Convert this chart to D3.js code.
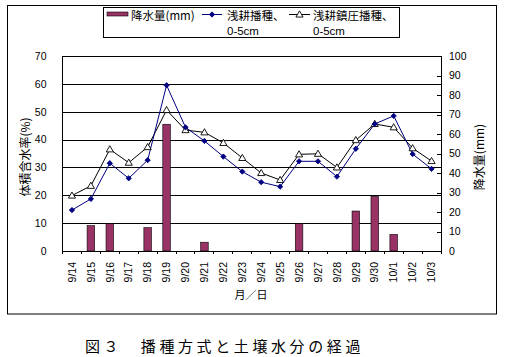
<!DOCTYPE html>
<html><head><meta charset="utf-8">
<script src="https://cdn.jsdelivr.net/npm/d3@7"></script>
<style>
body{margin:0;background:#fff;}
svg{display:block;}
text{font-family:"Liberation Sans","Noto Sans CJK JP",sans-serif;fill:#000;}
.cjk{font-family:"Noto Sans CJK JP",sans-serif;}
</style></head>
<body>
<svg id="c" width="508" height="357"></svg>
<script>
const categories = ["9/14","9/15","9/16","9/17","9/18","9/19","9/20","9/21","9/22","9/23","9/24","9/25","9/26","9/27","9/28","9/29","9/30","10/1","10/2","10/3"];
const rainfall = [0,13,14,0,12,65,0,4.5,0,0,0,0,14,0,0,20.5,28,8.5,0,0];
const shallow = [14.7,18.7,31.5,26.1,32.6,59.5,44.4,39.5,33.9,28.5,24.7,23.1,32.2,32.2,26.7,36.7,45.6,48.5,34.8,29.5];
const compacted = [19.9,23.4,36.5,31.7,37.3,50.6,43.4,42.6,38.8,33.4,28.0,25.5,34.7,34.9,30.0,39.8,45.6,44.4,36.9,32.3];
const leftTicks = [0,10,20,30,40,50,60,70];
const rightTicks = [0,10,20,30,40,50,60,70,80,90,100];
const seriesNames = ["降水量(mm)", "浅耕播種、", "浅耕鎮圧播種、"];
const seriesSub = ["", "0-5cm", "0-5cm"];
const yLabelLeft = "体積含水率(%)";
const yLabelRight = "降水量(mm)";
const xLabel = "月／日";
const caption = "図３　播種方式と土壌水分の経過";

const svg = d3.select("#c");
const L = 62.5, R = 441, T = 56, B = 251;

svg.append("rect").attr("x",7.5).attr("y",5.5).attr("width",489).attr("height",308.5)
  .attr("fill","#fff").attr("stroke","#000").attr("stroke-width",1);

const x = d3.scaleBand().domain(categories).range([L,R]).paddingInner(0.6).paddingOuter(0.3);
const yL = d3.scaleLinear().domain([0,70]).range([B,T]);
const yR = d3.scaleLinear().domain([0,100]).range([B,T]);

// left axis + gridlines
const gl = svg.append("g").attr("transform",`translate(${L},0)`)
  .call(d3.axisLeft(yL).tickValues(leftTicks).tickSize(-(R-L)).tickPadding(16));
gl.select(".domain").remove();
gl.selectAll(".tick line").attr("stroke","#000").attr("shape-rendering","crispEdges");
gl.selectAll("text").attr("font-size","10.5px");
svg.append("line").attr("x1",L).attr("x2",L).attr("y1",T).attr("y2",B).attr("stroke","#000").attr("shape-rendering","crispEdges");

// right axis
const gr = svg.append("g").attr("transform",`translate(${R},0)`)
  .call(d3.axisRight(yR).tickValues(rightTicks).tickSize(-4).tickPadding(8));
gr.select(".domain").attr("d",`M0,${T}V${B}`).attr("stroke","#000").attr("shape-rendering","crispEdges");
gr.selectAll(".tick line").attr("stroke","#000").attr("shape-rendering","crispEdges");
gr.selectAll("text").attr("font-size","10.5px");

// bars
const bw = x.bandwidth();
svg.append("g").selectAll("rect").data(categories.map((c,i)=>({c,v:rainfall[i]})).filter(d=>d.v>0))
  .join("rect")
  .attr("x",d=>x(d.c)).attr("width",bw)
  .attr("y",d=>yR(d.v)).attr("height",d=>B-yR(d.v))
  .attr("fill","#993366").attr("stroke","#000").attr("stroke-width",0.6);

// bottom axis
const gb = svg.append("g").attr("transform",`translate(0,${B})`)
  .call(d3.axisBottom(x).tickSize(0));
gb.select(".domain").attr("d",`M${L},0H${R}`).attr("stroke","#000").attr("shape-rendering","crispEdges");
gb.selectAll("text").attr("transform","rotate(-90)").attr("x",-11).attr("y",0).attr("dy","0.35em")
  .attr("text-anchor","end").attr("font-size","10.5px");
const step = x.step();
const bounds = categories.map(c=>x(c)-(step-bw)/2).concat([x(categories[categories.length-1])+bw+(step-bw)/2]);
gb.selectAll(".btick").data(bounds).join("line").attr("class","btick")
  .attr("x1",d=>d).attr("x2",d=>d).attr("y1",0).attr("y2",3)
  .attr("stroke","#000").attr("shape-rendering","crispEdges");

// lines
const cx = c => x(c)+bw/2;
const lineL = d3.line().x((d,i)=>cx(categories[i])).y(d=>yL(d));
svg.append("path").attr("d",lineL(compacted)).attr("fill","none").attr("stroke","#000").attr("stroke-width",1);
svg.append("path").attr("d",lineL(shallow)).attr("fill","none").attr("stroke","#000080").attr("stroke-width",1);
const tri = d3.symbol(d3.symbolTriangle,22)();
const dia = d3.symbol(d3.symbolSquare,14)();
svg.append("g").selectAll("path").data(compacted).join("path")
  .attr("d",tri).attr("transform",(d,i)=>`translate(${cx(categories[i])},${yL(d)+0.5})`)
  .attr("fill","#fff").attr("stroke","#000").attr("stroke-width",0.9);
svg.append("g").selectAll("path").data(shallow).join("path")
  .attr("d",dia).attr("transform",(d,i)=>`translate(${cx(categories[i])},${yL(d)}) rotate(45)`)
  .attr("fill","#000080").attr("stroke","#000080").attr("stroke-width",0.8);

// axis titles
svg.append("text").attr("class","cjk").attr("transform","translate(24,157) rotate(-90)")
  .attr("text-anchor","middle").attr("dominant-baseline","central").attr("font-size","12px").text(yLabelLeft);
svg.append("text").attr("class","cjk").attr("transform","translate(478,157) rotate(-90)")
  .attr("text-anchor","middle").attr("dominant-baseline","central").attr("font-size","12px").text(yLabelRight);
svg.append("text").attr("class","cjk").attr("x",251).attr("y",294)
  .attr("text-anchor","middle").attr("dominant-baseline","central").attr("font-size","11px").text(xLabel);

// legend
const lg = svg.append("g");
lg.append("rect").attr("x",103.5).attr("y",7.5).attr("width",296).attr("height",30)
  .attr("fill","#fff").attr("stroke","#000");
lg.append("rect").attr("x",107).attr("y",12).attr("width",21).attr("height",4)
  .attr("fill","#993366").attr("stroke","#000").attr("stroke-width",0.6);
lg.append("line").attr("x1",202).attr("x2",222).attr("y1",14.5).attr("y2",14.5).attr("stroke","#000080");
lg.append("path").attr("d",dia).attr("transform","translate(212,14.5) rotate(45)").attr("fill","#000080").attr("stroke","#000080").attr("stroke-width",0.8);
lg.append("line").attr("x1",289).attr("x2",310).attr("y1",14.5).attr("y2",14.5).attr("stroke","#000");
lg.append("path").attr("d",tri).attr("transform","translate(299.5,15)").attr("fill","#fff").attr("stroke","#000").attr("stroke-width",0.9);
const lx = [131,227,313];
seriesNames.forEach((n,i)=>{
  lg.append("text").attr("class","cjk").attr("x",lx[i]).attr("y",15).attr("dominant-baseline","central")
    .attr("font-size","11.5px").text(n);
  if(seriesSub[i]) lg.append("text").attr("x",lx[i]).attr("y",30.5).attr("dominant-baseline","central")
    .attr("font-size","11.5px").text(seriesSub[i]);
});

// caption
svg.append("text").attr("class","cjk").attr("x",85).attr("y",345).attr("dominant-baseline","central")
  .attr("font-size","15px").attr("letter-spacing","3.6px").text(caption);
</script>
</body></html>
